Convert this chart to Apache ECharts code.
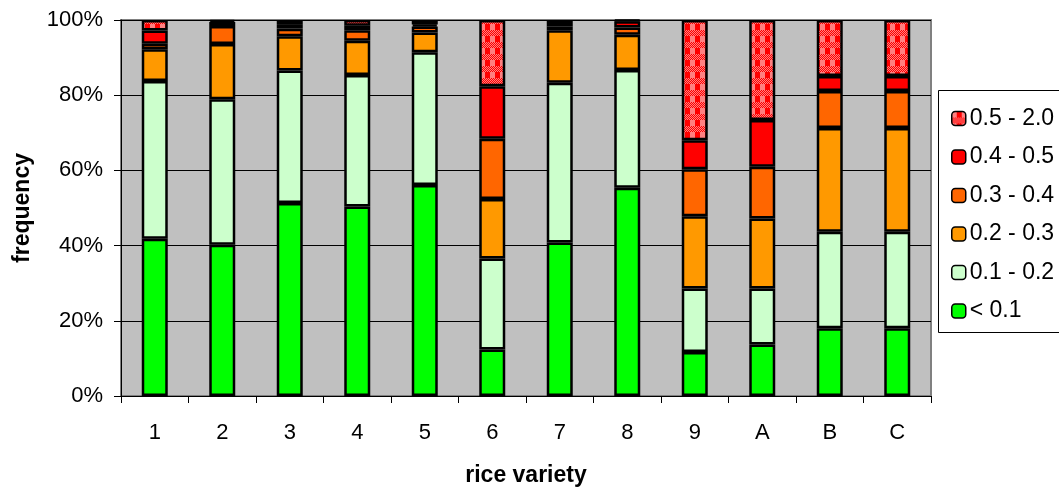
<!DOCTYPE html>
<html><head><meta charset="utf-8">
<script src="https://cdn.jsdelivr.net/npm/echarts@6/dist/echarts.min.js"></script>
<style>html,body{margin:0;padding:0;background:#fff}#c{width:1059px;height:492px}</style>
</head><body><div id="c"></div>
<script>
const categories = ['1','2','3','4','5','6','7','8','9','A','B','C'];
const seriesNames = ['< 0.1','0.1 - 0.2','0.2 - 0.3','0.3 - 0.4','0.4 - 0.5','0.5 - 2.0'];
const lt01   = [41.8, 40.2, 51.3, 50.4, 56.1, 12.4, 40.8, 55.4, 11.7, 13.7, 18.0, 18.0];
const s01_02 = [42.0, 38.7, 35.3, 35.0, 35.3, 24.2, 42.5, 31.3, 16.9, 14.9, 25.7, 25.7];
const s02_03 = [8.4, 14.7, 9.1, 9.1, 5.3, 15.8, 14.0, 9.4, 19.2, 18.6, 27.6, 27.6];
const s03_04 = [1.5, 4.8, 2.0, 2.8, 1.6, 16.0, 1.0, 1.9, 12.5, 13.8, 9.8, 9.8];
const s04_05 = [3.5, 1.1, 1.0, 1.2, 0.5, 14.0, 0.9, 1.7, 7.7, 12.4, 4.0, 4.0];
const s05_20 = [2.8, 0.5, 1.3, 1.5, 1.2, 17.6, 0.8, 0.3, 32.0, 26.6, 14.9, 14.9];
const yTicks = [0, 20, 40, 60, 80, 100];

// checker pattern for 0.5 - 2.0
const pc = document.createElement('canvas');
pc.width = 10; pc.height = 12;
const g = pc.getContext('2d');
g.fillStyle = '#FF0000'; g.fillRect(0,0,10,12);
g.fillStyle = '#FF8080';
g.fillRect(0,0,5,6);
for (let y = 6; y < 12; y++) for (let x = 0; x < 10; x++) if ((x + y) % 2 === 0) g.fillRect(x,y,1,1);
const pattern = {image: pc, repeat: 'repeat'};

const colors = ['#00FF00','#CCFFCC','#FF9900','#FF6600','#FF0000', pattern];
const dataArr = [lt01, s01_02, s02_03, s03_04, s04_05, s05_20];
const FONT = 'Liberation Sans, Arial, sans-serif';

const chart = echarts.init(document.getElementById('c'), null, {renderer: 'canvas'});
chart.setOption({
  animation: false,
  graphic: [{type: 'rect', shape: {x: 938.5, y: 90.5, width: 130, height: 242}, style: {fill: '#fff', stroke: '#000', lineWidth: 1}, z: 0}],
  grid: {left: 121, right: 128, top: 20, bottom: 92, show: true, backgroundColor: '#C0C0C0', borderColor: '#808080', borderWidth: 2},
  legend: {
    orient: 'vertical', left: 946, top: 102, itemGap: 15.5, itemWidth: 14, itemHeight: 14,
    data: seriesNames.slice().reverse(),
    textStyle: {fontFamily: FONT, fontSize: 23, lineHeight: 23, color: '#000', padding: [0,0,0,-1]},
    itemStyle: {borderColor: '#000', borderWidth: 1.5}, z: 5
  },
  xAxis: {
    type: 'category', data: categories,
    name: 'rice variety', nameLocation: 'middle', nameGap: 68,
    nameTextStyle: {fontFamily: FONT, fontSize: 23, fontWeight: 'bold', color: '#000'},
    axisLine: {lineStyle: {color: '#000', width: 1}},
    axisTick: {show: true, length: 7, lineStyle: {color: '#000'}},
    axisLabel: {fontFamily: FONT, fontSize: 22, color: '#000', margin: 26}
  },
  yAxis: {
    type: 'value', min: 0, max: 100, interval: 20,
    name: 'frequency', nameLocation: 'middle', nameGap: 87,
    nameTextStyle: {fontFamily: FONT, fontSize: 23, fontWeight: 'bold', color: '#000'},
    axisLine: {show: true, lineStyle: {color: '#000', width: 1}},
    axisTick: {show: true, length: 7, lineStyle: {color: '#000'}},
    axisLabel: {fontFamily: FONT, fontSize: 22, color: '#000', margin: 18, formatter: v => yTicks.includes(v) ? v + '%' : ''},
    splitLine: {show: true, lineStyle: {color: '#000', width: 1}}
  },
  series: seriesNames.map((n, i) => ({
    name: n, type: 'bar', stack: 'all', barWidth: 26,
    data: dataArr[i],
    itemStyle: {color: colors[i], borderColor: '#000', borderWidth: 2.5}
  }))
});
</script></body></html>
